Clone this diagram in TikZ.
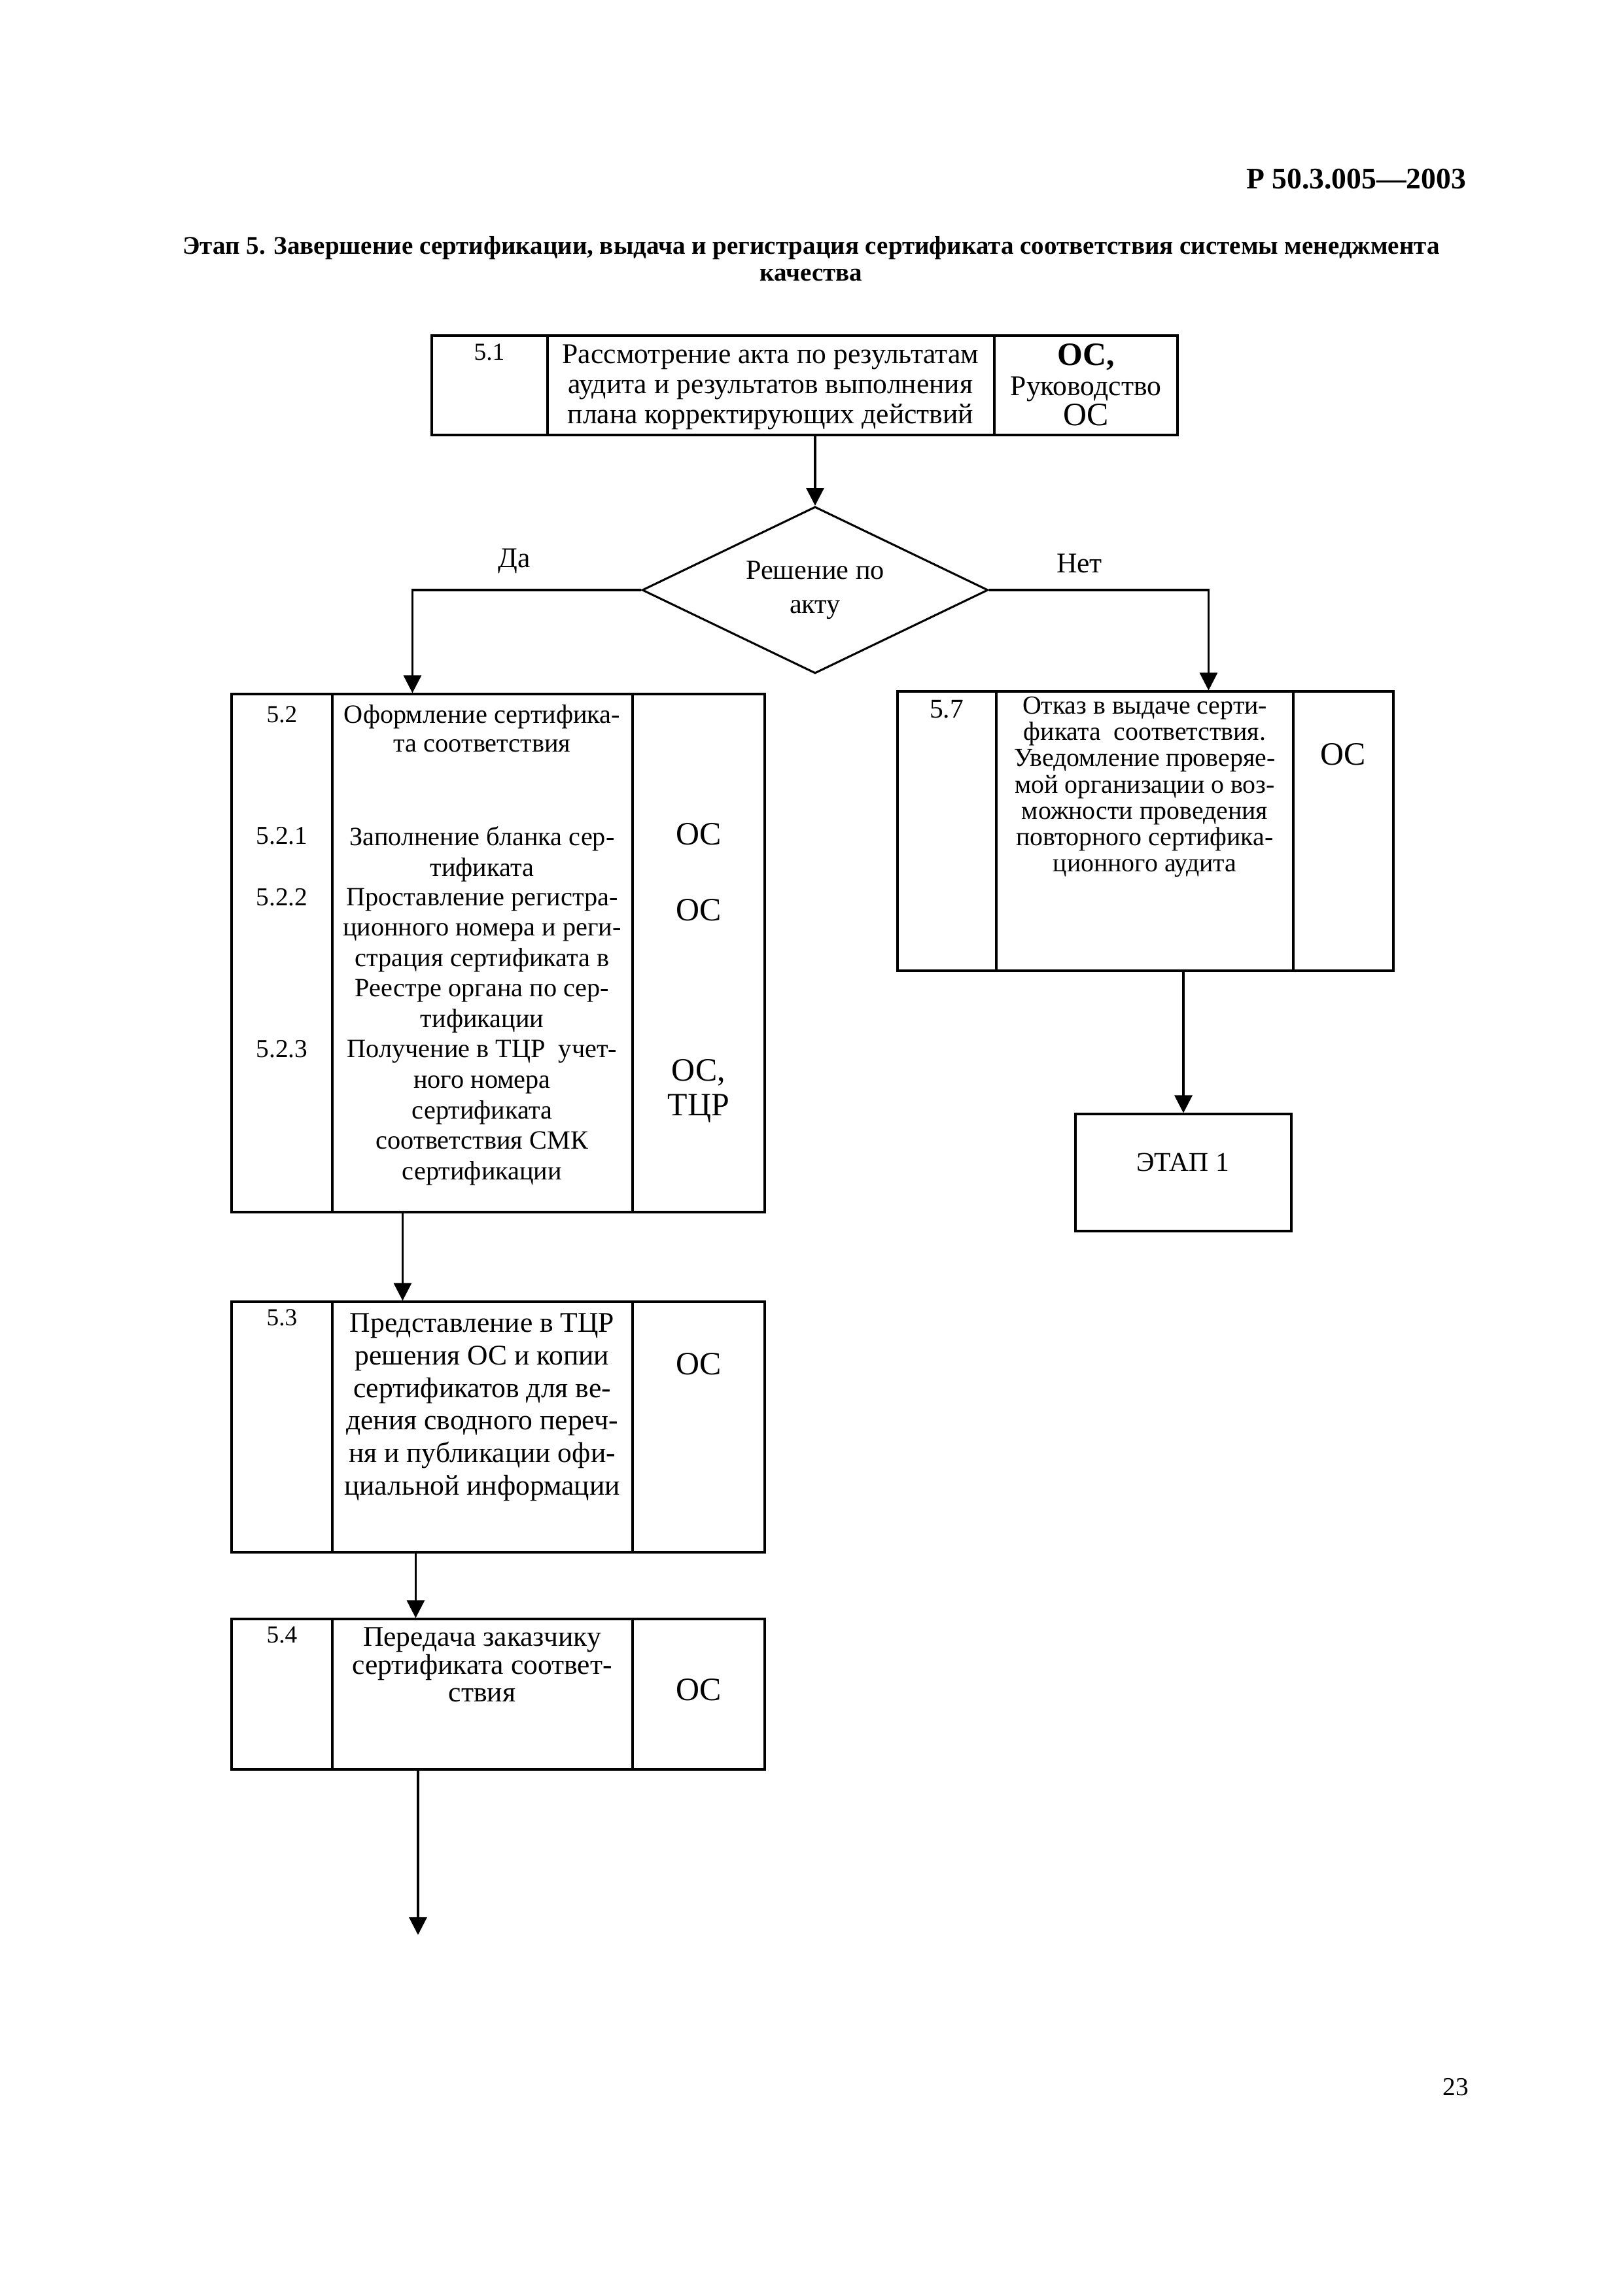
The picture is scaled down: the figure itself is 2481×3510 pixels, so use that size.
\documentclass[tikz,border=0pt]{standalone}
\usepackage{fontspec}
\setmainfont{Liberation Serif}
\usetikzlibrary{arrows.meta,shapes.geometric,fit,calc}
\newcommand\fsz[2]{\fontsize{#1}{#2}\selectfont}
\begin{document}
\begin{tikzpicture}[x=0.2409pt,y=-0.2409pt,
 box/.style={draw, line width=0.75pt, inner sep=0pt},
 sep/.style={line width=0.75pt},
 arr/.style={line width=0.75pt, -{Triangle[length=6.5pt,width=6.5pt]}},
 lbl/.style={inner sep=0pt, align=center},
 tx/.style={inner sep=0pt, align=center, anchor=north},
 num/.style={inner sep=0pt, anchor=mid, font=\fsz{9}{10}},
 body/.style={font=\fsz{10.5}{#1}},
 sbody/.style={font=\fsz{9.7}{#1}},
 resp/.style={inner sep=0pt, anchor=center, font=\fsz{12}{13}},
]
\useasboundingbox (0,0) rectangle (2481,3510);
\fill[white] (0,0) rectangle (2481,3510);

% header and title
\node[lbl, anchor=base east, font=\fsz{11}{13}\bfseries] (hdr) at (2242,288) {Р 50.3.005—2003};
\node[tx, font=\fsz{9.4}{9.8}\bfseries] (title) at (1240,361)
 {Этап 5. Завершение сертификации, выдача и регистрация сертификата соответствия системы менеджмента\\качества};

% box 5.1
\node[box, fit={(660,513) (1800,665)}] (b51) {};
\draw[sep] (837,513) -- (837,665);
\draw[sep] (1520,513) -- (1520,665);
\node[num] (n51) at (748,541) {5.1};
\node[tx, body=11.1pt] (t51) at (1178,526)
 {Рассмотрение акта по результатам\\аудита и результатов выполнения\\плана корректирующих действий};
\node[tx, font=\fsz{12}{11.1}] (r51) at (1660,525)
 {\textbf{ОС,}\\{\fsz{10.5}{11.1}Руководство}\\ОС};

% decision
\node[draw, diamond, line width=0.75pt, shape aspect=2.1, minimum width=127.4pt, minimum height=61.4pt,
 inner sep=0pt, align=center, font=\fsz{10.2}{12.4}] (dec) at (1246,902) {Решение по\\акту};
\node[lbl, anchor=mid, font=\fsz{10.5}{12}] (da) at (786,858) {Да};
\node[lbl, anchor=mid, font=\fsz{10.5}{12}] (net) at (1650,866) {Нет};

% box 5.2
\node[box, fit={(354,1061) (1169,1853)}] (b52) {};
\draw[sep] (508,1061) -- (508,1853);
\draw[sep] (967,1061) -- (967,1853);
\node[num] (n52) at (431,1095) {5.2};
\node[num, font=\fsz{9.5}{10}] (n521) at (431,1281) {5.2.1};
\node[num, font=\fsz{9.5}{10}] (n522) at (431,1375) {5.2.2};
\node[num, font=\fsz{9.5}{10}] (n523) at (431,1607) {5.2.3};
\node[tx, sbody=10.6pt] (t52) at (737,1077) {Оформление сертифика-\\та соответствия};
\node[tx, sbody=11.3pt] (t521) at (737,1263) {Заполнение бланка сер-\\тификата};
\node[tx, sbody=11.2pt] (t522) at (737,1357)
 {Проставление регистра-\\ционного номера и реги-\\страция сертификата в\\Реестре органа по сер-\\тификации};
\node[tx, sbody=11.3pt] (t523) at (737,1589)
 {Получение в ТЦР\ \ учет-\\ного номера\\сертификата\\соответствия СМК\\сертификации};
\node[resp] (r521) at (1068,1275) {ОС};
\node[resp] (r522) at (1068,1391) {ОС};
\node[tx, font=\fsz{12}{12.8}] (r523) at (1068,1619) {ОС,\\ТЦР};

% box 5.3
\node[box, fit={(354,1990) (1169,2373)}] (b53) {};
\draw[sep] (508,1990) -- (508,2373);
\draw[sep] (967,1990) -- (967,2373);
\node[num] (n53) at (431,2017) {5.3};
\node[tx, body=12pt] (t53) at (737,2007)
 {Представление в ТЦР\\решения ОС и копии\\сертификатов для ве-\\дения сводного переч-\\ня и публикации офи-\\циальной информации};
\node[resp] (r53) at (1068,2085) {ОС};

% box 5.4
\node[box, fit={(354,2475) (1169,2705)}] (b54) {};
\draw[sep] (508,2475) -- (508,2705);
\draw[sep] (967,2475) -- (967,2705);
\node[num] (n54) at (431,2502) {5.4};
\node[tx, body=10.3pt] (t54) at (737,2487)
 {Передача заказчику\\сертификата соответ-\\ствия};
\node[resp] (r54) at (1068,2583) {ОС};

% box 5.7
\node[box, fit={(1372,1057) (2130,1484)}] (b57) {};
\draw[sep] (1523,1057) -- (1523,1484);
\draw[sep] (1977,1057) -- (1977,1484);
\node[num, font=\fsz{10}{11}] (n57) at (1447,1088) {5.7};
\node[tx, font=\fsz{9.6}{9.7}] (t57) at (1750,1064)
 {Отказ в выдаче серти-\\фиката\ \ соответствия.\\Уведомление проверяе-\\мой организации о воз-\\можности проведения\\повторного сертифика-\\ционного аудита};
\node[resp] (r57) at (2053,1153) {ОС};

% stage 1
\node[box, fit={(1644,1703) (1974,1882)}] (e1) {};
\node[lbl, anchor=center, font=\fsz{10}{12}] (e1t) at (1808,1777) {ЭТАП 1};

% page number
\node[lbl, anchor=center, font=\fsz{9.5}{11}] (pg) at (2225,3191) {23};

% connectors
\draw[arr] (dec.north |- b51.south) -- (dec.north);
\draw[arr] (dec.west) -| ($(b52.north west)+(278,0)$);
\draw[arr] (dec.east) -| ($(b57.north west)+(477,0)$);
\draw[arr] ($(b52.south west)+(263,0)$) -- ($(b53.north west)+(263,0)$);
\draw[arr] ($(b53.south west)+(283,0)$) -- ($(b54.north west)+(283,0)$);
\coordinate (next) at (639,2958);
\draw[arr] (next |- b54.south) -- (next);
\draw[arr] (e1.north |- b57.south) -- (e1.north);
\end{tikzpicture}
\end{document}
